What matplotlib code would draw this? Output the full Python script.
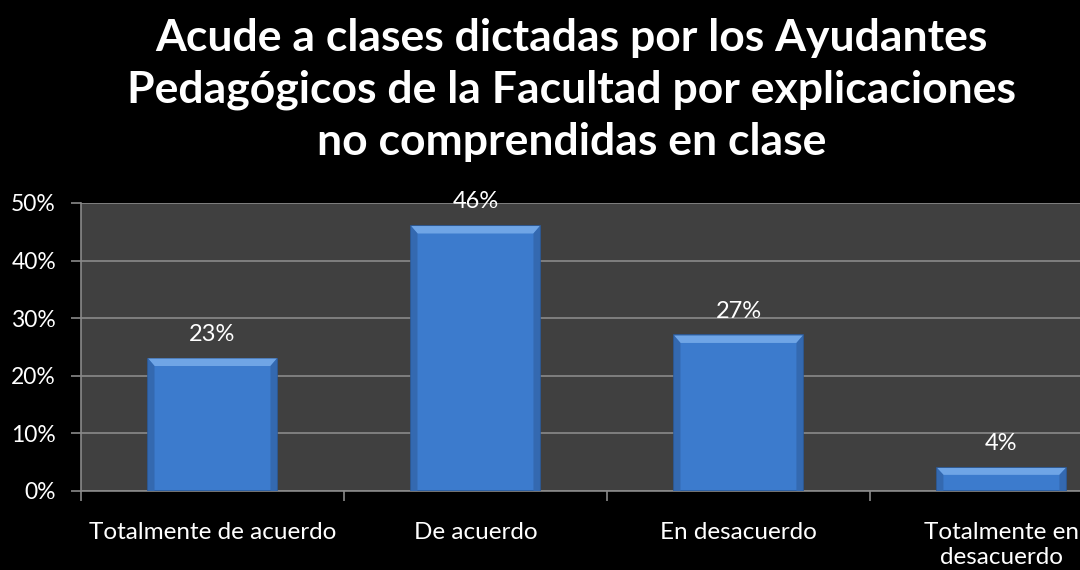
import matplotlib.pyplot as plt
import numpy as np
from matplotlib.patches import Polygon

categories = ["Totalmente de acuerdo", "De acuerdo", "En desacuerdo", "Totalmente en\ndesacuerdo"]
values = [23, 46, 27, 4]
yticks = [0, 10, 20, 30, 40, 50]

title = ("Acude a clases dictadas por los Ayudantes\n"
         "Pedagógicos de la Facultad por explicaciones\n"
         "no comprendidas en clase")

plt.rcParams['font.family'] = ['Lato', 'DejaVu Sans']

fig = plt.figure(figsize=(10.8, 5.7), dpi=100, facecolor='black')
ax = fig.add_axes([0.075, 0.1386, 0.974, 0.5053])
ax.set_facecolor('#404040')

x = np.arange(len(categories))
width = 0.49
bars = ax.bar(x, values, width=width, color='#3c7bcd', edgecolor='#2b5c9e', linewidth=1.2, zorder=3)

# simple bevel: lighter strip on top, darker fade on the sides
for b in bars:
    x0, w, h = b.get_x(), b.get_width(), b.get_height()
    dx = w * 0.05
    dy = min(1.3, h * 0.3)
    ax.add_patch(Polygon([[x0, h], [x0 + w, h], [x0 + w - dx, h - dy], [x0 + dx, h - dy]],
                         closed=True, color='#6fa5e6', zorder=4, lw=0))
    ax.add_patch(Polygon([[x0, 0], [x0, h], [x0 + dx, h - dy], [x0 + dx, 0]],
                         closed=True, color='#3469b0', zorder=4, lw=0))
    ax.add_patch(Polygon([[x0 + w, 0], [x0 + w, h], [x0 + w - dx, h - dy], [x0 + w - dx, 0]],
                         closed=True, color='#3469b0', zorder=4, lw=0))
    ax.text(b.get_x() + w / 2, h + 2.4, f"{h:.0f}%", ha='center', va='bottom',
            color='white', fontsize=17, zorder=5)

ax.set_xlim(-0.5, len(categories) - 0.5)
ax.set_ylim(0, 50)
ax.set_yticks(yticks)
ax.set_yticklabels([f"{t}%" for t in yticks], color='white', fontsize=16.5)
ax.yaxis.grid(True, color='#8a8a8a', linewidth=1.2, zorder=0)
ax.set_axisbelow(True)

ax.set_xticks(x)
ax.set_xticklabels(categories, color='white', fontsize=17.5)
for tl in ax.get_xticklabels():
    tl.set_linespacing(1.25)
ax.tick_params(axis='x', length=0, pad=22)
ax.set_xticks(np.arange(len(categories) + 1) - 0.5, minor=True)
ax.tick_params(axis='x', which='minor', length=7, color='#8a8a8a', width=1.2)
ax.tick_params(axis='y', length=7, color='#8a8a8a', width=1.2, pad=11)

for side in ['top', 'right']:
    ax.spines[side].set_visible(False)
for side in ['left', 'bottom']:
    ax.spines[side].set_color('#8a8a8a')
    ax.spines[side].set_linewidth(1.2)

fig.text(0.529, 0.842, title, ha='center', va='center', color='white',
         fontsize=32, fontweight='bold', linespacing=1.36)

fig.savefig('out.png', dpi=100, facecolor='black')
